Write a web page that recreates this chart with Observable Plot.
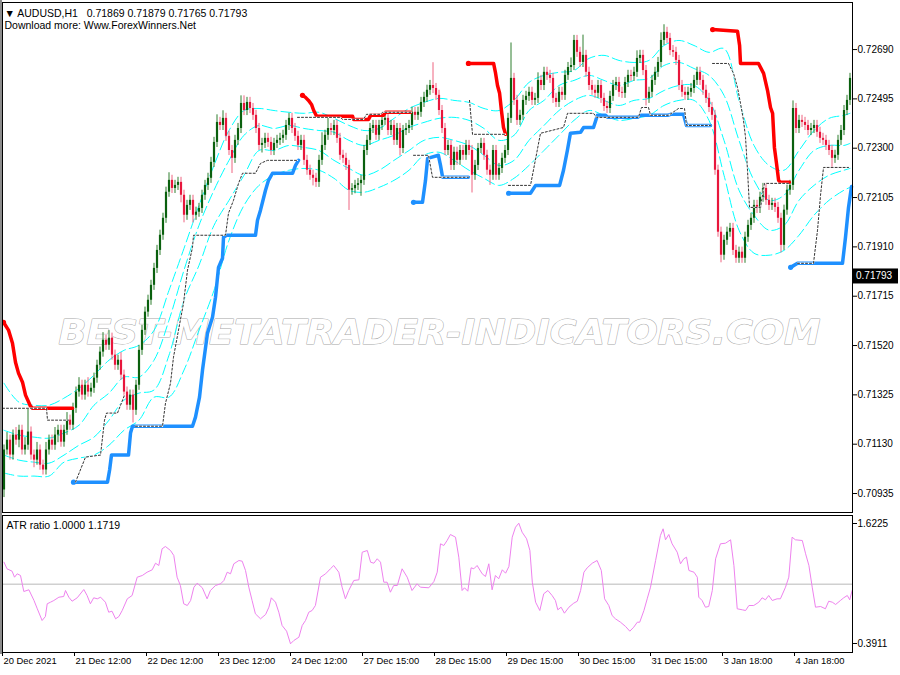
<!DOCTYPE html>
<html><head><meta charset="utf-8">
<script src="https://cdn.jsdelivr.net/npm/d3@7"></script>
<script src="https://cdn.jsdelivr.net/npm/@observablehq/plot@0.6"></script>
<style>
body{margin:0;background:#fff;}
#chart{width:900px;height:675px;position:relative;overflow:hidden;background:#fff;}
svg{display:block}
</style></head><body><div id="chart"></div>
<script>
// ---------- DATA (AUDUSD H1) ----------
const firstOpen = 0.70949;
const closes = [
0.71107,0.71146,0.71087,0.71166,0.71146,0.71185,0.71107,0.71126,0.71178,0.71087,
0.71067,0.71107,0.71047,0.71028,0.71107,0.71146,0.71126,0.71166,0.71185,0.71138,
0.71185,0.71225,0.71205,0.71272,0.71336,0.71363,0.71324,0.71363,0.71336,0.71351,
0.71391,0.71442,0.71494,0.71541,0.71521,0.71549,0.71482,0.71442,0.71462,0.71403,
0.71336,0.71284,0.71324,0.71264,0.71363,0.71501,0.71580,0.71652,0.71699,0.71758,
0.71825,0.71896,0.71956,0.72023,0.72126,0.72173,0.72141,0.72153,0.72165,0.72114,
0.72035,0.72074,0.72094,0.72035,0.72047,0.72062,0.72114,0.72153,0.72181,0.72244,
0.72323,0.72402,0.72390,0.72418,0.72347,0.72291,0.72260,0.72331,0.72378,0.72477,
0.72449,0.72481,0.72457,0.72430,0.72378,0.72311,0.72319,0.72339,0.72323,0.72291,
0.72319,0.72331,0.72339,0.72351,0.72390,0.72418,0.72378,0.72347,0.72311,0.72331,
0.72252,0.72213,0.72193,0.72181,0.72165,0.72252,0.72311,0.72351,0.72378,0.72370,
0.72390,0.72339,0.72272,0.72260,0.72232,0.72134,0.72140,0.72153,0.72160,0.72173,
0.72291,0.72331,0.72378,0.72390,0.72351,0.72390,0.72410,0.72418,0.72370,0.72390,
0.72331,0.72378,0.72299,0.72370,0.72378,0.72390,0.72442,0.72430,0.72442,0.72481,
0.72501,0.72529,0.72548,0.72536,0.72509,0.72449,0.72378,0.72291,0.72311,0.72232,
0.72284,0.72252,0.72291,0.72272,0.72311,0.72291,0.72193,0.72232,0.72299,0.72319,
0.72272,0.72213,0.72193,0.72291,0.72193,0.72220,0.72260,0.72291,0.72418,0.72576,
0.72489,0.72410,0.72430,0.72489,0.72505,0.72521,0.72489,0.72497,0.72568,0.72548,
0.72600,0.72588,0.72576,0.72497,0.72481,0.72521,0.72509,0.72588,0.72619,0.72627,
0.72726,0.72679,0.72639,0.72667,0.72600,0.72548,0.72529,0.72517,0.72548,0.72497,
0.72465,0.72457,0.72505,0.72548,0.72560,0.72521,0.72517,0.72560,0.72588,0.72584,
0.72600,0.72655,0.72667,0.72607,0.72497,0.72521,0.72568,0.72600,0.72639,0.72726,
0.72758,0.72734,0.72686,0.72679,0.72647,0.72548,0.72521,0.72509,0.72521,0.72536,
0.72568,0.72600,0.72568,0.72529,0.72497,0.72461,0.72430,0.72213,0.71968,0.71877,
0.71936,0.71968,0.71983,0.71896,0.71865,0.71889,0.71865,0.71948,0.71995,0.72023,
0.72074,0.72062,0.72106,0.72141,0.72094,0.72074,0.72082,0.72066,0.72023,0.71916,
0.72055,0.72134,0.72153,0.72457,0.72378,0.72410,0.72402,0.72390,0.72370,0.72378,
0.72390,0.72363,0.72339,0.72331,0.72311,0.72291,0.72260,0.72272,0.72331,0.72370,
0.72449,0.72489,0.72576];
// upper / lower shadow length in pips (0.0001)
const wickUp = [
2,3,2,2,3,2,2,3,9,2, 2,3,2,2,3,2,2,3,2,2,
2,3,2,2,2,3,2,2,3,2, 2,2,2,3,2,3,2,2,2,3,
2,2,2,2,2,2,2,2,2,2, 2,2,2,2,2,3,2,2,2,2,
2,2,2,2,2,2,2,2,2,2, 2,3,2,3,2,2,2,2,2,3,
3,2,2,2,2,2,2,2,2,2, 2,2,2,2,2,2,2,2,2,2,
2,2,2,2,2,2,5,2,4,2, 2,2,2,2,2,2,2,2,2,2,
2,2,2,2,2,2,2,2,2,2, 2,2,2,2,2,2,2,2,2,2,
2,2,2,9,2,2,2,2,2,2, 2,2,2,2,2,2,2,2,2,2,
2,2,2,2,2,2,2,2,2,14, 2,2,2,2,2,2,2,2,3,2,
2,2,2,2,2,2,2,2,2,3, 2,2,2,8,2,2,2,2,2,2,
2,2,2,2,2,2,2,2,2,2, 2,3,2,2,2,2,2,2,2,3,
3,2,2,2,2,2,2,2,2,2, 2,2,2,2,2,2,2,2,2,2,
2,2,2,2,2,2,2,2,2,2, 2,2,2,2,2,2,2,2,2,2,
2,2,2,3,2,2,2,2,2,2, 2,2,2,2,2,2,2,2,2,2,
2,2,2];
const wickDn = [
3,2,2,2,2,3,2,2,2,2, 3,2,2,2,2,2,2,2,3,2,
2,2,2,2,2,2,2,2,2,2, 2,2,2,2,2,2,2,2,2,2,
2,2,2,5,2,2,2,2,2,2, 2,2,2,2,2,2,2,2,2,3,
3,2,2,3,2,2,2,2,2,2, 2,2,2,2,2,2,6,2,2,2,
2,2,2,2,2,2,3,2,2,2, 2,2,2,2,2,2,2,2,2,2,
2,2,2,3,2,2,2,2,2,2, 2,2,2,2,2,8,2,2,2,5,
2,2,2,2,2,2,2,2,2,2, 2,2,3,2,2,2,2,2,2,2,
2,2,2,2,2,2,2,2,2,2, 2,2,2,2,2,2,7,2,2,2,
2,2,4,2,2,2,2,2,2,2, 2,2,2,2,2,2,2,2,2,2,
2,2,2,2,2,2,2,2,2,2, 2,2,2,2,2,2,2,2,2,2,
2,2,2,2,2,2,2,2,2,2, 2,2,2,2,3,2,2,2,2,2,
2,2,2,2,2,2,2,2,2,2, 2,2,2,2,2,2,2,2,2,3,
2,2,2,2,2,2,2,2,2,2, 2,2,2,2,2,2,2,2,2,3,
2,2,2,2,2,2,2,2,2,2, 2,2,2,2,2,2,4,2,2,2,
2,2,2];

// cyan channel lines, sampled at these bars
const cyanBars = [0,5,10,15,20,25,30,35,40,45,50,55,60,65,70,75,80,85,90,95,100,105,110,115,120,125,130,135,140,145,150,155,160,165,170,175,180,185,190,195,200,205,210,215,220,225,230,235,240,245,250,255,260,265,270,275,280,282];
const cyan1 = [0.71371,0.71296,0.71284,0.71284,0.71312,0.71351,0.71403,0.71462,0.71501,0.71521,0.71580,0.71738,0.71904,0.72074,0.72232,0.72370,0.72449,0.72457,0.72449,0.72442,0.72438,0.72442,0.72418,0.72390,0.72370,0.72378,0.72418,0.72457,0.72481,0.72497,0.72489,0.72481,0.72457,0.72449,0.72489,0.72560,0.72588,0.72600,0.72607,0.72655,0.72667,0.72647,0.72639,0.72647,0.72706,0.72726,0.72706,0.72679,0.72694,0.72489,0.72311,0.72232,0.72213,0.72291,0.72370,0.72418,0.72430,0.72438];
const cyan2 = [0.71185,0.71166,0.71158,0.71154,0.71174,0.71205,0.71284,0.71332,0.71395,0.71395,0.71462,0.71620,0.71818,0.71995,0.72134,0.72252,0.72351,0.72390,0.72378,0.72390,0.72378,0.72370,0.72363,0.72331,0.72311,0.72331,0.72351,0.72382,0.72402,0.72418,0.72422,0.72410,0.72378,0.72331,0.72351,0.72449,0.72489,0.72548,0.72568,0.72588,0.72568,0.72548,0.72568,0.72576,0.72627,0.72639,0.72615,0.72588,0.72509,0.72331,0.72173,0.72094,0.72114,0.72213,0.72291,0.72311,0.72311,0.72319];
const cyan3 = [0.71087,0.71067,0.71059,0.71055,0.71087,0.71126,0.71158,0.71225,0.71304,0.71332,0.71344,0.71482,0.71699,0.71837,0.71995,0.72094,0.72193,0.72291,0.72291,0.72311,0.72303,0.72291,0.72252,0.72220,0.72193,0.72213,0.72252,0.72291,0.72331,0.72343,0.72331,0.72311,0.72272,0.72232,0.72252,0.72331,0.72390,0.72449,0.72489,0.72509,0.72489,0.72469,0.72489,0.72497,0.72528,0.72548,0.72548,0.72489,0.72331,0.72134,0.72035,0.71976,0.71995,0.72094,0.72153,0.72193,0.72213,0.72220];
const cyan4 = [0.71016,0.71004,0.71004,0.71004,0.71059,0.71075,0.71087,0.71126,0.71185,0.71225,0.71316,0.71316,0.71423,0.71580,0.71738,0.71936,0.72074,0.72153,0.72193,0.72213,0.72220,0.72213,0.72181,0.72134,0.72126,0.72145,0.72173,0.72213,0.72272,0.72284,0.72252,0.72213,0.72181,0.72153,0.72181,0.72232,0.72291,0.72351,0.72410,0.72449,0.72430,0.72410,0.72418,0.72430,0.72469,0.72489,0.72489,0.72410,0.72193,0.71976,0.71885,0.71877,0.71896,0.71956,0.72035,0.72094,0.72134,0.72145];

// thick trailing lines: [bar, price]
const red1 = [[-0.17,0.71612],[1.5,0.71581],[2.83,0.71529],[3.83,0.71454],[4.83,0.71411],[6.17,0.71375],[7.17,0.71324],[8.83,0.71280],[9.5,0.71272],[22.83,0.71272]];
const red2 = [[99.5,0.72509],[100.5,0.72501],[101.5,0.72489],[102.5,0.72473],[103.2,0.72450],[104.2,0.72426],[116.2,0.72426],[116.5,0.72414],[121.5,0.72414],[122.2,0.72430],[126.5,0.72430],[127.2,0.72442],[135.5,0.72442]];
const red3 = [[154.8,0.72635],[163.2,0.72635],[163.8,0.72600],[164.5,0.72548],[165.2,0.72517],[165.8,0.72450],[166.5,0.72382],[167.2,0.72355]];
const red4 = [[236.2,0.72769],[244.5,0.72762],[245.2,0.72706],[245.5,0.72635],[251.5,0.72635],[253.2,0.72596],[254.5,0.72529],[255.5,0.72461],[256.2,0.72438],[256.8,0.72303],[257.5,0.72240],[258.2,0.72173],[258.8,0.72165],[261.8,0.72165]];
const blue1 = [[23.17,0.70980],[34.5,0.70980],[35.2,0.71028],[35.83,0.71087],[41.5,0.71087],[42.17,0.71174],[42.83,0.71201],[62.83,0.71201],[63.83,0.71237],[65.17,0.71316],[66.17,0.71423],[67.83,0.71569],[69.5,0.71632],[70.5,0.71711],[71.5,0.71829],[72.83,0.71865],[73.17,0.71948],[74.17,0.71956],[83.83,0.71956],[84.5,0.72015],[85.5,0.72055],[87.17,0.72134],[88.17,0.72173],[89.5,0.72201],[96.17,0.72201],[97.17,0.72232],[98.17,0.72252]];
const blue2 = [[136.5,0.72086],[139.5,0.72086],[140.5,0.72173],[141.2,0.72260],[144.8,0.72272],[145.5,0.72232],[146.2,0.72185],[154.8,0.72185]];
const blue3 = [[168.2,0.72122],[175.5,0.72122],[177.2,0.72153],[185.2,0.72153],[186.5,0.72213],[187.8,0.72292],[188.8,0.72359],[192.2,0.72363],[193.2,0.72382],[196.5,0.72382],[197.8,0.72430],[200.5,0.72430],[201.2,0.72422],[211.2,0.72422],[212.2,0.72430],[221.2,0.72430],[222.2,0.72434],[226.5,0.72434],[227.5,0.72390],[235.5,0.72390]];
const blue4 = [[262.2,0.71829],[264.5,0.71845],[279.5,0.71845],[280.5,0.71948],[281.5,0.72066],[282.5,0.72149]];

// thin dotted lines: [bar, price]
const dot1 = [[-0.5,0.71272],[14.17,0.71272],[14.5,0.71225],[21.5,0.71225]];
const dot2 = [[23.83,0.70980],[27.17,0.71079],[32.17,0.71087],[33.5,0.71225],[34.17,0.71253],[37.83,0.71253],[40.17,0.71324]];
const dot3 = [[43.83,0.71201],[52.83,0.71201],[53.83,0.71292],[55.5,0.71371],[56.5,0.71474],[58.17,0.71581],[59.83,0.71687],[61.17,0.71818],[62.83,0.71908],[63.17,0.71956],[73.83,0.71956],[74.83,0.72043],[76.5,0.72094],[78.17,0.72161],[79.5,0.72201],[83.83,0.72201],[85.5,0.72240],[87.83,0.72252],[97.83,0.72252]];
const dot4 = [[97.83,0.72422],[112.17,0.72422],[112.83,0.72414],[119.83,0.72414],[120.83,0.72434],[125.5,0.72434],[126.17,0.72442],[135.83,0.72442]];
const dot5 = [[136.5,0.72272],[141.5,0.72272],[142.83,0.72185],[154.83,0.72185]];
const dot6 = [[155.17,0.72489],[156.17,0.72355],[167.17,0.72355]];
const dot7 = [[168.17,0.72153],[175.5,0.72153],[178.83,0.72359],[186.5,0.72382],[187.83,0.72438],[196.5,0.72438],[197.5,0.72422],[211.5,0.72422],[212.5,0.72461],[214.83,0.72461],[215.5,0.72430],[221.5,0.72430],[224.83,0.72457],[226.83,0.72457],[227.5,0.72390],[235.5,0.72390]];
const dot8 = [[236.17,0.72635],[241.5,0.72635],[243.17,0.72596],[244.5,0.72540],[245.5,0.72477],[246.5,0.72410],[247.17,0.72343],[247.5,0.72280],[247.83,0.72213],[248.5,0.72066],[252.17,0.72066],[253.5,0.72161],[261.5,0.72161]];
const dot9 = [[264.5,0.71845],[269.83,0.71845],[271.17,0.71976],[272.17,0.72114],[273.17,0.72224],[281.5,0.72224]];

// ATR ratio sub-window
const atrBar = [0,1,2.7,3.5,4.4,5.5,6.6,8.3,10,11.1,12.7,13.8,14.4,15.5,16.6,18.3,19.9,20.5,21.6,22.7,24.4,26.6,27.7,28.8,29.9,31.1,32.2,33.8,34.9,36,37.2,38.3,39.4,41.1,42.7,44.4,46.1,47.7,49.4,50.5,51.6,52.7,53.8,55.5,56.6,57.7,58.8,59.9,61.1,62.2,63.3,64.4,66.1,67.7,68.8,70.5,72.2,73.3,74.4,75.5,76.6,78.3,79.4,80.5,81.6,82.7,83.8,85.5,87.2,88.3,89.1,90.5,91.6,92.7,94.2,95.5,96.6,98.3,99.4,100.5,101.6,102.7,103.8,105.5,107.2,108.8,109.9,111.6,112.7,113.8,114.9,116.6,118.3,119.4,121.1,122.2,123.3,124.4,125.5,126.6,127.7,128.8,129.9,131.1,132.7,134.4,136,137.7,138.8,141.6,143.3,144.4,145.5,146.6,147.7,148.8,
150.5,151.6,152.7,153.5,154.6,155.7,156.6,157.7,159.4,160.5,161.6,162.7,163.8,164.9,166.1,167.2,168.3,169.4,170.5,171.6,172.7,174.2,175.3,176.1,177.2,178.6,179.9,181.3,182.7,183.8,184.6,185.7,186.8,188.3,189.9,191.1,192.2,193.3,194.4,196.1,197.7,199.1,200.2,201.6,202.7,203.8,205.5,207.2,208.6,209.9,211.1,211.9,213.3,214.4,215.5,217.2,218.8,219.7,220.5,221.6,222.7,224.4,225.5,226.6,227.5,228.3,230,231.1,231.6,232.7,233.8,234.9,236.1,237.2,238.8,240.5,242.2,243.3,244.4,246.1,247.2,248.3,249.9,251.6,252.7,253.8,254.9,256.1,257.7,258.8,260.5,261.6,262.7,263.8,266.1,267.2,268.3,269.4,270.5,272.2,273.8,274.9,276.1,277.2,278.8,279.9,281.1,281.9,282.7];
const atrVal = [1.2254,1.1576,1.1330,1.0714,1.1063,1.0889,0.9247,0.9421,0.8323,0.7472,0.6271,0.6681,0.7985,0.8149,0.8323,0.8662,0.8734,0.9349,0.8662,0.8251,0.8600,0.9452,0.8836,0.7985,0.8600,0.8498,0.8662,0.8149,0.7123,0.7225,0.6445,0.6681,0.7297,0.8498,0.8836,1.0714,1.0889,1.1227,1.1474,1.2151,1.1915,1.3629,1.3865,1.3454,1.2941,1.0714,0.9863,0.7985,0.7810,0.8323,0.9688,1.0099,0.9627,0.8498,0.9349,0.9863,1.0037,1.0376,1.1227,1.1063,1.2089,1.2428,1.2356,1.1402,0.9688,0.8323,0.6958,0.6445,0.6887,0.7636,0.8600,0.8149,0.7123,0.5758,0.5173,0.3880,0.4218,0.4557,0.5758,0.6271,0.7123,0.7297,0.7810,1.0714,1.1063,1.1576,1.1915,1.1227,0.9688,0.8498,0.9349,1.0376,1.0447,1.3280,1.3454,1.2254,1.2151,1.2603,1.2254,1.0201,1.0201,0.9175,0.9863,0.9863,1.1576,1.0714,0.9349,1.0037,0.9688,0.9627,1.0273,1.1227,1.4142,1.3967,1.4480,1.5096,
1.4819,1.2767,0.9349,0.9627,0.9278,1.1679,1.1576,1.1915,1.1063,1.0786,1.2089,0.9421,1.0889,1.0550,1.1474,1.1125,1.1812,1.4819,1.5845,1.6256,1.5332,1.4655,1.3454,1.0201,0.8149,0.7297,0.9011,0.9349,0.8836,0.8323,0.7369,0.7636,0.7020,0.7636,0.8046,0.8251,0.9349,1.1227,1.1679,1.2151,1.2428,1.1402,0.8498,0.7810,0.6784,0.6445,0.6096,0.5655,0.5173,0.5583,0.6096,0.6096,0.7297,0.8498,0.9688,1.2428,1.4994,1.5681,1.4552,1.5096,1.4142,1.3280,1.2089,1.2603,1.2767,1.1402,1.1227,1.0714,0.8662,0.8323,0.7636,0.7708,0.9349,1.2603,1.4142,1.4203,1.4552,1.1915,0.7472,0.7369,0.7297,0.7810,0.7810,0.8149,0.8600,0.8395,0.8836,0.8323,0.8498,0.8498,0.9688,1.0714,1.4819,1.4552,1.4480,1.3116,1.1915,0.9688,0.7636,0.7708,0.7472,0.8251,0.8149,0.7913,0.8323,0.8600,0.8836,0.8395,0.9349];

const priceTicks = [0.72690,0.72495,0.72300,0.72105,0.71910,0.71715,0.71520,0.71325,0.71130,0.70935];
const atrTicks = [1.6225,0.3911];
const timeTickBars = [-0.5,23.5,47.5,71.5,95.5,119.5,143.5,167.5,191.5,215.5,239.5,263.5];
const timeTickLabels = ["20 Dec 2021","21 Dec 12:00","22 Dec 12:00","23 Dec 12:00","24 Dec 12:00","27 Dec 15:00","28 Dec 15:00","29 Dec 15:00","30 Dec 15:00","31 Dec 15:00","3 Jan 18:00","4 Jan 18:00"];
const headerLine = "\u25BC AUDUSD,H1\u00a0\u00a0 0.71869 0.71879 0.71765 0.71793";
const subLine = "Download more: Www.ForexWinners.Net";
const watermark = "BEST-METATRADER-INDICATORS.COM";
const lastPrice = 0.71793;
const atrTitle = "ATR ratio 1.0000 1.1719";

// ---------- BUILD ----------
const candles = closes.map((c, i) => {
  const o = i === 0 ? firstOpen : closes[i - 1];
  return {i, o, c: c === o ? c + 0.00002 : c,
    h: Math.max(o, c) + wickUp[i] * 1e-4, l: Math.min(o, c) - wickDn[i] * 1e-4, up: c >= o};
});
const bull = candles.filter(d => d.up), bear = candles.filter(d => !d.up);
const segs = (list) => list.flatMap((s, k) => s.map(([b, p]) => ({b, p, k})));
const redData = segs([red1, red2, red3, red4]);
const blueData = segs([blue1, blue2, blue3, blue4]);
const dotData = segs([dot1, dot2, dot3, dot4, dot5, dot6, dot7, dot8, dot9]);
const redStarts = [red1, red2, red3, red4].map(s => ({b: s[0][0], p: s[0][1]}));
const blueStarts = [blue1, blue2, blue3, blue4].map(s => ({b: s[0][0], p: s[0][1]}));
const cyanData = [cyan1, cyan2, cyan3, cyan4].flatMap((arr, k) => arr.map((p, j) => ({b: cyanBars[j], p, k})));
const atrData = atrBar.map((b, j) => ({b, v: atrVal[j]}));
const xDomain = [-0.5, 282.83];
const font = "Liberation Sans, Arial, sans-serif";

const main = Plot.plot({
  width: 900, height: 513,
  marginLeft: 2, marginRight: 48, marginTop: 2, marginBottom: 1,
  x: {domain: xDomain, axis: null},
  y: {domain: [0.70860, 0.72876], axis: "right", ticks: priceTicks, tickFormat: d3.format(".5f"), tickSize: 4, tickPadding: 1, label: null},
  style: {fontFamily: font, fontSize: "10px", color: "#000", background: "#fff"},
  marks: [
    Plot.text([watermark], {frameAnchor: "middle", dx: 12, dy: 76, fontSize: 33, fontStyle: "italic", fontWeight: "bold",
      fontFamily: "DejaVu Sans", fill: "#fff", stroke: "#a8a8a8", strokeWidth: 1}),
    Plot.line(cyanData, {x: "b", y: "p", z: "k", stroke: "#00ffff", strokeWidth: 1, strokeDasharray: "10,4", curve: "catmull-rom"}),
    Plot.ruleX(bull, {x: "i", y1: "l", y2: "h", stroke: "#2f7f2f", strokeWidth: 1}),
    Plot.ruleX(bear, {x: "i", y1: "l", y2: "h", stroke: "#ee6480", strokeWidth: 1}),
    Plot.ruleX(bull, {x: "i", y1: "o", y2: "c", stroke: "#0a600e", strokeWidth: 2.2}),
    Plot.ruleX(bear, {x: "i", y1: "o", y2: "c", stroke: "#e8163c", strokeWidth: 2.2}),
    Plot.line(redData, {x: "b", y: "p", z: "k", stroke: "#ff0000", strokeWidth: 3.5, strokeLinejoin: "round", strokeLinecap: "round"}),
    Plot.line(blueData, {x: "b", y: "p", z: "k", stroke: "#1e90ff", strokeWidth: 3.5, strokeLinejoin: "round", strokeLinecap: "round"}),
    Plot.dot(redStarts, {x: "b", y: "p", r: 2.6, fill: "#ff0000"}),
    Plot.dot(blueStarts, {x: "b", y: "p", r: 2.6, fill: "#1e90ff"}),
    Plot.line(dotData, {x: "b", y: "p", z: "k", stroke: "#fff", strokeWidth: 1.4}),
    Plot.line(dotData, {x: "b", y: "p", z: "k", stroke: "#333", strokeWidth: 1, strokeDasharray: "2,2"}),
    Plot.frame({stroke: "#000"}),
    Plot.text([headerLine], {frameAnchor: "top-left", dx: 2, dy: 11, lineAnchor: "middle", textAnchor: "start", fontSize: 10.5, fill: "#000"}),
    Plot.text([subLine], {frameAnchor: "top-left", dx: 2, dy: 23, lineAnchor: "middle", textAnchor: "start", fontSize: 10.5, fill: "#000"})
  ]
});

const ind = Plot.plot({
  width: 900, height: 162,
  marginLeft: 2, marginRight: 48, marginTop: 2, marginBottom: 23,
  x: {domain: xDomain, ticks: timeTickBars, tickFormat: () => "", tickSize: 4, label: null},
  y: {domain: [0.2987, 1.7046], axis: "right", ticks: atrTicks, tickFormat: d3.format(".4f"), tickSize: 4, tickPadding: 1, label: null},
  style: {fontFamily: font, fontSize: "10px", color: "#000", background: "#fff"},
  marks: [
    Plot.ruleY([1.0], {stroke: "#b8b8b8", strokeWidth: 1}),
    Plot.line(atrData, {x: "b", y: "v", stroke: "#ee82ee", strokeWidth: 1}),
    Plot.frame({stroke: "#000"}),
    Plot.text([atrTitle], {frameAnchor: "top-left", dx: 4, dy: 10, lineAnchor: "middle", textAnchor: "start", fontSize: 10.5, fill: "#000"}),
    Plot.text(timeTickBars, {x: d => d, text: (d, i) => timeTickLabels[i], frameAnchor: "bottom", textAnchor: "start", lineAnchor: "top", dx: 1, dy: 5, fontSize: 9.4, fill: "#000"})
  ]
});

const chart = document.getElementById("chart");
chart.appendChild(main);
chart.appendChild(ind);

// watermark stretched to its width
d3.select(main).selectAll("text").filter(function () { return this.textContent === watermark; })
  .attr("textLength", 762).attr("lengthAdjust", "spacingAndGlyphs");
// left grey border of the windows
d3.select(main).append("rect").attr("x", 0).attr("y", 0).attr("width", 2).attr("height", 513).attr("fill", "#8c8c8c");
d3.select(ind).append("rect").attr("x", 0).attr("y", 0).attr("width", 2).attr("height", 141).attr("fill", "#8c8c8c");
// current price label box on the price axis
const yLast = main.scale("y").apply(lastPrice);
const g = d3.select(main).append("g");
g.append("rect").attr("x", 852).attr("y", yLast - 7.5).attr("width", 46).attr("height", 15).attr("fill", "#000");
g.append("text").attr("x", 856).attr("y", yLast).attr("dy", "0.35em").attr("fill", "#fff").attr("text-anchor", "start")
  .attr("font-family", font).attr("font-size", 10).text(d3.format(".5f")(lastPrice));
</script></body></html>
